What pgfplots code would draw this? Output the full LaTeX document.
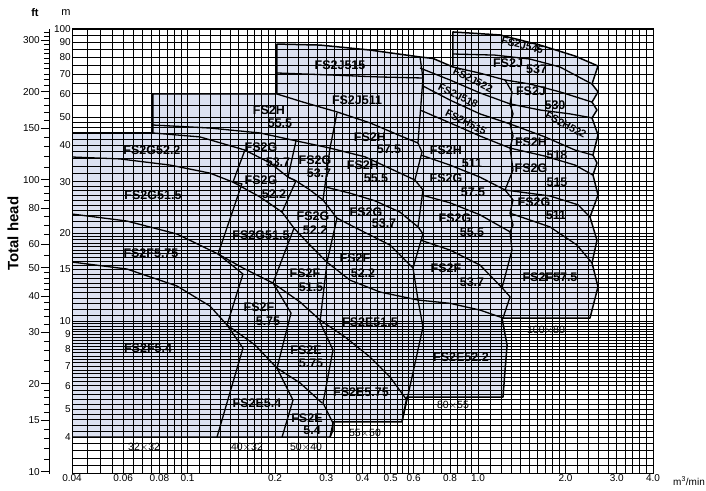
\documentclass[border=0pt]{standalone}
\usepackage{pgfplots}
\pgfplotsset{compat=1.18}
\usepackage{fontspec}
\setmainfont{Liberation Sans}
\definecolor{zone}{RGB}{221,226,241}
\tikzset{
    curve/.style={black, line width=1.3pt, line join=round},
    lab/.style={font=\fontsize{12.5}{12.5}\selectfont\bfseries, inner sep=0pt},
    rlab/.style={font=\fontsize{10.5}{10.5}\selectfont\bfseries, inner sep=0pt},
    sz/.style={font=\fontsize{10.5}{10.5}\selectfont, inner sep=0pt},
}
\begin{document}
\begin{tikzpicture}
% ft scale on the far left
\begin{axis}[
    at={(-23pt,0pt)}, anchor=south west,
    scale only axis, width=5pt, height=444.7pt,
    ymode=log, ymin=9.8425, ymax=328.08, xmin=0, xmax=1,
    hide x axis, axis y line*=left, axis line style={-, black, line width=0.8pt},
    ytick pos=left, tick align=outside,
    major tick length=8pt, minor tick length=4.5pt,
    tick style={black, line width=0.7pt},
    ytick={10,15,20,30,40,50,60,80,100,150,200,300},
    yticklabels={10,15,20,30,40,50,60,80,100,150,200,300},
    minor ytick={11,12,13,14,16,17,18,19,22,24,26,28,32,34,36,38,42,44,46,48,55,65,70,75,85,90,95,110,120,130,140,160,170,180,190,210,220,230,240,250,260,270,280,290,310,320},
    yticklabel style={font=\fontsize{10}{10}\selectfont, inner sep=1pt},
]
\end{axis}
\begin{axis}[
    at={(0pt,0pt)}, anchor=south west,
    scale only axis, width=581pt, height=444.7pt,
    xmode=log, ymode=log,
    xmin=0.04, xmax=4, ymin=3, ymax=100,
    set layers,
    axis line style={black, line width=1pt},
    grid=both,
    major grid style={black, line width=0.8pt},
    minor grid style={black, line width=0.6pt},
    major tick length=0pt, minor tick length=0pt,
    xtick={0.04,0.06,0.08,0.1,0.2,0.3,0.4,0.5,0.6,0.8,1,2,3,4},
    xticklabels={0.04,0.06,0.08,0.1,0.2,0.3,0.4,0.5,0.6,0.8,1.0,2.0,3.0,4.0},
    minor xtick={0.045,0.05,0.055,0.065,0.07,0.075,0.085,0.09,0.095,
        0.11,0.12,0.13,0.14,0.15,0.16,0.17,0.18,0.19,
        0.22,0.24,0.26,0.28,0.32,0.34,0.36,0.38,
        0.425,0.45,0.475,0.525,0.55,0.575,0.65,0.7,0.75,0.85,0.9,0.95,
        1.1,1.2,1.3,1.4,1.5,1.6,1.7,1.8,1.9,2.2,2.4,2.6,2.8,3.2,3.4,3.6,3.8},
    ytick={4,5,6,7,8,9,10,15,20,30,40,50,60,70,80,90,100},
    yticklabels={4,5,6,7,8,9,10,15,20,30,40,50,60,70,80,90,100},
    minor ytick={3.2,3.4,3.6,3.8,4.2,4.4,4.6,4.8,5.2,5.4,5.6,5.8,6.2,6.4,6.6,6.8,
        7.2,7.4,7.6,7.8,8.2,8.4,8.6,8.8,9.2,9.4,9.6,9.8,
        10.5,11,11.5,12,12.5,13,13.5,14,14.5,15.5,16,16.5,17,17.5,18,18.5,19,19.5,
        21,22,23,24,25,26,27,28,29,32,34,36,38,42,44,46,48,55,65,75,85,95},
    ticklabel style={font=\fontsize{10}{10}\selectfont},
    xticklabel style={anchor=north, inner sep=1pt},
    yticklabel style={anchor=east, inner sep=1pt},
]
% shaded selection area
\pgfplotstableread{
Q H
0.04 4.0
0.04 44.05
0.0760 44.05
0.0760 59.9
0.2031 59.9
0.2031 88.8
0.2856 88.1
0.4244 84.7
0.631 80.2
0.700 79.3
0.8194 74.1
0.8194 97.7
1.190 95.4
1.633 88.1
2.156 80.8
2.587 74.7
2.467 64.8
2.587 60.9
2.467 56.2
2.566 52.8
2.467 49.6
2.587 43.4
2.486 37.0
2.566 34.8
2.486 31.6
2.587 27.0
2.428 22.7
2.566 18.9
2.467 15.8
2.587 13.1
2.428 10.24
1.209 10.24
1.258 8.28
1.218 5.49
0.569 5.49
0.547 4.51
0.3166 4.51
0.3166 4.23
0.3092 4.0
}\outline
\addplot[fill=zone, draw=none, on layer=axis background] table {\outline} -- cycle;
\addplot[curve, line width=1.5pt] table {\outline} -- cycle;

% head curves
\addplot[curve] coordinates {(0.04,44.05) (0.0760,44.05) (0.1103,42.7) (0.1575,38.5)};
\addplot[curve] coordinates {(0.04,36.45) (0.0585,35.9) (0.0870,34.2) (0.1194,32.1) (0.1433,29.9)};
\addplot[curve] coordinates {(0.04,23.25) (0.0618,22.0) (0.0919,19.86) (0.1273,16.96) (0.1551,15.19) (0.1968,13.49) (0.2437,11.62) (0.2856,10.08) (0.3482,8.82) (0.4244,7.53) (0.4974,6.43) (0.569,5.36)};
\addplot[curve] coordinates {(0.04,15.92) (0.0618,15.07) (0.0919,13.18) (0.1194,11.25) (0.1367,9.69) (0.1706,8.28) (0.2031,6.90) (0.2437,6.14) (0.2902,5.24)};
\addplot[curve] coordinates {(0.0760,46.9) (0.1194,45.8) (0.1775,44.05) (0.2361,41.4) (0.3092,39.1) (0.408,36.5) (0.606,30.4)};
\addplot[curve] coordinates {(0.1575,38.5) (0.1922,34.8) (0.2216,31.1) (0.2361,30.2)};
\addplot[curve] coordinates {(0.1433,29.9) (0.1775,26.6) (0.2114,23.6)};
\addplot[curve] coordinates {(0.2361,30.2) (0.2638,28.1) (0.2925,25.96)};
\addplot[curve] coordinates {(0.2324,20.8) (0.2638,18.2) (0.3019,15.9)};
\addplot[curve] coordinates {(0.3268,51.6) (0.3092,39.1)};
\addplot[curve] coordinates {(0.2031,70.7) (0.3092,69.6) (0.4595,68.5) (0.646,67.95)};
\addplot[curve] coordinates {(0.2031,59.9) (0.2496,56.2) (0.3268,52.0) (0.4244,47.7) (0.5512,42.7) (0.621,40.7)};
\addplot[curve] coordinates {(0.297,28.8) (0.3623,27.4) (0.4416,25.8) (0.5383,23.6) (0.621,21.0)};
\addplot[curve] coordinates {(0.3268,22.5) (0.3922,20.5) (0.4974,18.2) (0.597,15.2)};
\addplot[curve] coordinates {(0.3019,15.9) (0.3623,13.8) (0.4595,12.57) (0.621,11.8)};
\addplot[curve] coordinates {(0.8194,74.1) (1.015,70.6) (1.238,66.9)};
\addplot[curve] coordinates {(0.631,73.5) (0.800,66.9) (1.015,60.4) (1.288,55.4)};
\addplot[curve] coordinates {(0.646,63.8) (0.800,57.1) (1.015,51.2) (1.288,47.3)};
\addplot[curve] coordinates {(0.631,52.8) (0.800,47.7) (1.015,43.0) (1.288,39.1)};
\addplot[curve] coordinates {(0.636,37.0) (0.800,34.2) (1.015,31.1) (1.238,28.1)};
\addplot[curve] coordinates {(0.641,27.0) (0.800,25.4) (1.015,23.1) (1.288,20.2)};
\addplot[curve] coordinates {(0.636,18.9) (0.800,17.5) (1.015,15.55) (1.209,13.0)};
\addplot[curve] coordinates {(0.621,11.8) (0.800,11.5) (1.015,10.9) (1.218,10.24)};
\addplot[curve] coordinates {(0.8194,82.1) (1.143,81.4) (1.509,78.9) (1.914,74.1) (2.467,64.8)};
\addplot[curve] coordinates {(1.238,66.9) (1.509,64.8) (1.914,60.9) (2.467,56.2)};
\addplot[curve] coordinates {(1.288,55.4) (1.633,52.8) (2.072,51.2) (2.467,49.6)};
\addplot[curve] coordinates {(1.288,47.3) (1.699,42.7) (2.156,38.5) (2.486,37.0)};
\addplot[curve] coordinates {(1.288,39.1) (1.699,36.7) (2.156,34.2) (2.486,31.6)};
\addplot[curve] coordinates {(1.238,28.1) (1.768,26.8) (2.208,25.0) (2.428,22.7)};
\addplot[curve] coordinates {(1.288,23.4) (1.768,21.0) (2.190,18.2) (2.467,15.8)};
% pump size boundaries
\addplot[curve] coordinates {(0.1575,38.5) (0.1433,29.9) (0.1538,29.5) (0.1273,16.96) (0.1551,14.49) (0.1367,9.69) (0.1551,8.08) (0.1262,4.0)};
\addplot[curve] coordinates {(0.2361,41.4) (0.2216,31.1) (0.2361,30.2) (0.2114,23.6) (0.2324,20.8) (0.1968,13.49) (0.2270,10.65) (0.2031,6.90) (0.2306,5.36) (0.2114,4.0)};
\addplot[curve] coordinates {(0.3092,39.1) (0.2925,25.96) (0.3268,22.5) (0.3019,15.9) (0.2856,9.92) (0.3166,7.96) (0.2925,5.24) (0.3166,4.47) (0.3092,4.0)};
\addplot[curve] coordinates {(0.631,80.2) (0.646,67.95) (0.621,40.7) (0.641,37.9) (0.606,30.4) (0.646,28.1) (0.621,21.0) (0.646,19.9) (0.597,15.2) (0.621,11.8) (0.646,9.54) (0.569,5.36) (0.547,4.51)};
\addplot[curve] coordinates {(1.238,66.9) (1.308,60.9) (1.288,55.4) (1.319,51.2) (1.288,47.3) (1.319,43.0) (1.288,39.1) (1.319,32.9) (1.238,28.1) (1.319,26.0) (1.288,23.4) (1.319,21.3) (1.288,20.2) (1.308,17.5) (1.209,13.0) (1.288,12.1) (1.218,10.24)};

% model labels
\node[lab] at (axis cs:0.0754,38.5) {FS2G52.2};
\node[lab] at (axis cs:0.0760,27.0) {FS2G51.5};
\node[lab] at (axis cs:0.0748,17.1) {FS2F5.75};
\node[lab] at (axis cs:0.0731,8.08) {FS2F5.4};
\node[lab] at (axis cs:0.1906,52.8) {FS2H};
\node[lab] at (axis cs:0.2080,47.5) {55.5};
\node[lab] at (axis cs:0.1789,39.4) {FS2G};
\node[lab] at (axis cs:0.2047,35.0) {53.7};
\node[lab] at (axis cs:0.1789,30.4) {FS2G};
\node[lab] at (axis cs:0.1984,27.2) {52.2};
\node[lab] at (axis cs:0.1789,19.7) {FS2G51.5};
\node[lab] at (axis cs:0.1761,11.17) {FS2F};
\node[lab] at (axis cs:0.1891,10.0) {5.75};
\node[lab] at (axis cs:0.1733,5.24) {FS2E5.4};
\node[lab] at (axis cs:0.2746,35.6) {FS2G};
\node[lab] at (axis cs:0.2833,32.2) {53.7};
\node[lab] at (axis cs:0.2702,22.88) {FS2G};
\node[lab] at (axis cs:0.2746,20.4) {52.2};
\node[lab] at (axis cs:0.2536,14.6) {FS2F};
\node[lab] at (axis cs:0.2660,13.0) {51.5};
\node[lab] at (axis cs:0.2556,7.96) {FS2E};
\node[lab] at (axis cs:0.2660,7.15) {5.75};
\node[lab] at (axis cs:0.2576,4.66) {FS2E};
\node[lab] at (axis cs:0.2681,4.22) {5.4};
\node[lab] at (axis cs:0.3347,75.3) {FS2J515};
\node[lab] at (axis cs:0.3831,57.1) {FS2J511};
\node[lab] at (axis cs:0.4244,42.7) {FS2H};
\node[lab] at (axis cs:0.4935,38.9) {57.5};
\node[lab] at (axis cs:0.4015,34.2) {FS2H};
\node[lab] at (axis cs:0.4452,30.8) {55.5};
\node[lab] at (axis cs:0.4112,23.6) {FS2G};
\node[lab] at (axis cs:0.4744,21.55) {53.7};
\node[lab] at (axis cs:0.3769,16.43) {FS2F};
\node[lab] at (axis cs:0.4015,14.55) {52.2};
\node[lab] at (axis cs:0.4244,9.92) {FS2E51.5};
\node[lab] at (axis cs:0.3953,5.71) {FS2E5.75};
\node[rlab, rotate=-27] at (axis cs:0.9604,67.0) {FS2J522};
\node[rlab, rotate=-26] at (axis cs:0.8533,59.1) {FS2J518};
\node[rlab, rotate=-27] at (axis cs:0.9086,48.0) {FS2H515};
\node[lab] at (axis cs:0.7753,38.5) {FS2H};
\node[lab] at (axis cs:0.9528,34.6) {511};
\node[lab] at (axis cs:0.7753,30.9) {FS2G};
\node[lab] at (axis cs:0.9604,27.5) {57.5};
\node[lab] at (axis cs:0.8326,22.5) {FS2G};
\node[lab] at (axis cs:0.9528,20.1) {55.5};
\node[lab] at (axis cs:0.7753,15.19) {FS2F};
\node[lab] at (axis cs:0.9528,13.55) {53.7};
\node[lab] at (axis cs:0.8733,7.53) {FS2E52.2};
\node[rlab, rotate=-14] at (axis cs:1.4200,88.0) {FS2J545};
\node[lab] at (axis cs:1.2676,76.6) {FS2J};
\node[lab] at (axis cs:1.5900,73.0) {537};
\node[lab] at (axis cs:1.5208,61.2) {FS2J};
\node[lab] at (axis cs:1.8397,54.9) {530};
\node[rlab, rotate=-28] at (axis cs:2.007,46.9) {FS2H522};
\node[lab] at (axis cs:1.5208,41.0) {FS2H};
\node[lab] at (axis cs:1.8692,37.1) {518};
\node[lab] at (axis cs:1.5208,33.4) {FS2G};
\node[lab] at (axis cs:1.8692,29.8) {515};
\node[lab] at (axis cs:1.5576,25.6) {FS2G};
\node[lab] at (axis cs:1.8543,23.0) {511};
\node[lab] at (axis cs:1.768,14.15) {FS2F57.5};
% pump size labels
\node[sz] at (axis cs:0.07085,3.70) {32$\times$32};
\node[sz] at (axis cs:0.1601,3.70) {40$\times$32};
\node[sz] at (axis cs:0.2556,3.70) {50$\times$40};
\node[sz] at (axis cs:0.4079,4.135) {55$\times$50};
\node[sz] at (axis cs:0.8194,5.155) {80$\times$55};
\node[sz] at (axis cs:1.7128,9.315) {100$\times$80};
\end{axis}
\node[font=\fontsize{10}{10}\selectfont] at (617pt,-7.3pt) {m\textsuperscript{3}/min};
\node[font=\fontsize{11}{11}\selectfont\bfseries] at (-37pt,460.7pt) {ft};
\node[font=\fontsize{11}{11}\selectfont] at (-6pt,460.7pt) {m};
\node[font=\fontsize{15}{15}\selectfont\bfseries, rotate=90] at (-59pt,240pt) {Total head};
\pgfresetboundingbox
\useasboundingbox (-72pt,-16.3pt) rectangle (634pt,473.7pt);
\end{tikzpicture}
\end{document}
